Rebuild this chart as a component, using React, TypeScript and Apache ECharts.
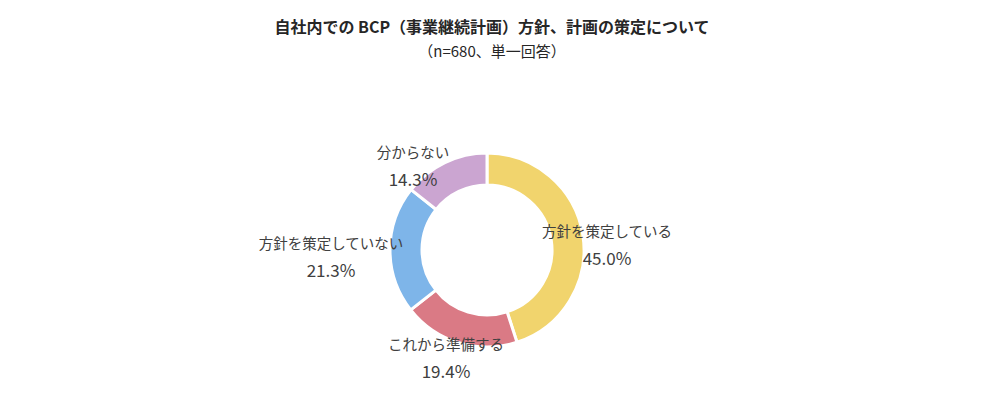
import React, { useEffect, useRef } from "react";
import * as echarts from "echarts";

const TITLE = "自社内での BCP（事業継続計画）方針、計画の策定について";
const SUBTITLE = "（n=680、単一回答）";
const categories = ["方針を策定している", "これから準備する", "方針を策定していない", "分からない"];
const values = [45.0, 19.4, 21.3, 14.3];
const colors = ["#F1D46D", "#DA7A85", "#7EB5E9", "#CBA5D1"];

// label centre positions (layout only)
const labelPos: [number, number][] = [
  [607, 244],
  [446, 357],
  [331, 256],
  [413, 165],
];

export default function App() {
  const ref = useRef<HTMLDivElement>(null);
  useEffect(() => {
    if (!ref.current) return;
    const chart = echarts.init(ref.current, null, { renderer: "svg" });
    const font = "Noto Sans CJK JP";
    const numFont = "Noto Sans CJK JP";
    chart.setOption({
      animation: false,
      backgroundColor: "#ffffff",
      title: {
        text: TITLE,
        subtext: SUBTITLE,
        left: 487,
        textAlign: "center",
        top: 13,
        itemGap: 9,
        textStyle: { fontFamily: font, fontSize: 16, fontWeight: "bold", color: "#262626" },
        subtextStyle: { fontFamily: font, fontSize: 15, color: "#262626" },
      },
      series: [
        {
          type: "pie",
          center: [487, 250],
          radius: [65, 97],
          startAngle: 90,
          clockwise: true,
          avoidLabelOverlap: false,
          itemStyle: { borderColor: "#ffffff", borderWidth: 3 },
          label: {
            show: true,
            position: "outside",
            fontFamily: font,
            fontSize: 14.5,
            lineHeight: 27,
            color: "#404040",
            align: "center",
            formatter: (p: any) => `{n|${p.name}}\n{v|${Number(p.value).toFixed(1)}%}`,
            rich: {
              n: { fontFamily: font, fontSize: 14.5, lineHeight: 27, color: "#404040" },
              v: { fontFamily: numFont, fontSize: 17, lineHeight: 27, color: "#404040" },
            },
          },
          labelLine: { show: false },
          labelLayout: (params: any) => {
            const pos = labelPos[params.dataIndex];
            return { x: pos[0], y: pos[1], align: "center", verticalAlign: "middle", hideOverlap: false };
          },
          data: categories.map((c, i) => ({ name: c, value: values[i], itemStyle: { color: colors[i] } })),
        },
      ],
    });
    return () => chart.dispose();
  }, []);
  return <div ref={ref} style={{ position: "fixed", left: 0, top: 0, width: 1000, height: 394 }} />;
}
